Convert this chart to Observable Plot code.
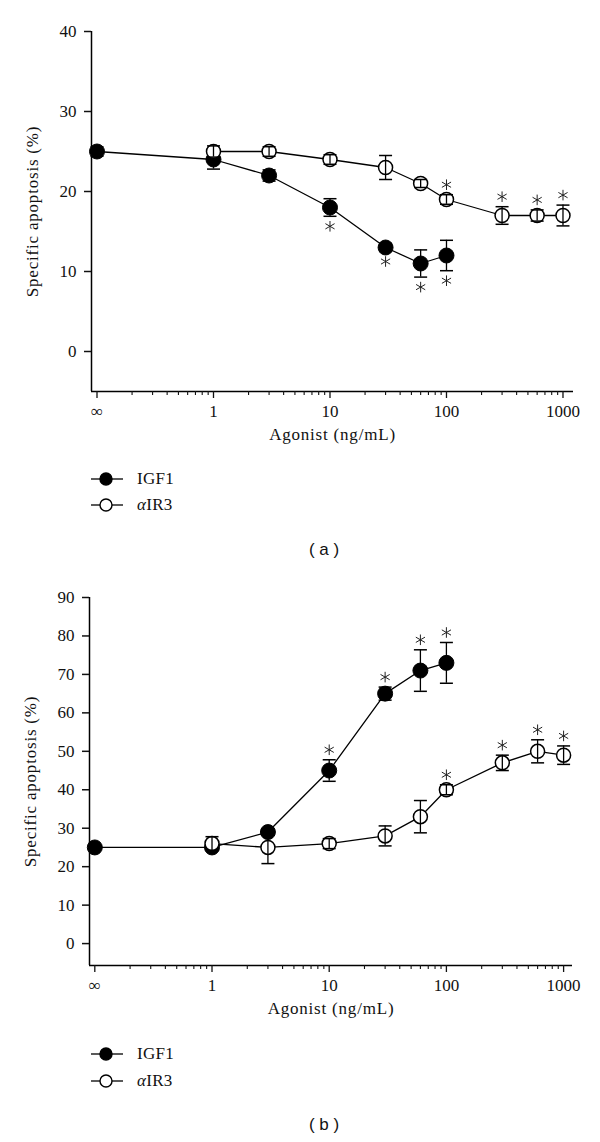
<!DOCTYPE html>
<html><head><meta charset="utf-8">
<script src="https://cdn.jsdelivr.net/npm/d3@7"></script>
<script src="https://cdn.jsdelivr.net/npm/@observablehq/plot@0.6"></script>
<style>
body{margin:0;background:#fff;}
#root{position:relative;width:600px;height:1142px;overflow:hidden;background:#fff;}
.panel{position:absolute;left:0;}
.panel text{font-family:"Liberation Serif",serif !important;font-size:17px !important;fill:#111;}
.panel g[aria-label$="axis label"] text{letter-spacing:0.8px;}
.lrow{position:absolute;left:91px;height:20px;display:flex;align-items:center;font-family:"Liberation Serif";font-size:17px;color:#111;letter-spacing:0.3px;}
.lrow svg{display:block;margin-right:14px;}
.cap{position:absolute;left:0;width:648px;text-align:center;font-family:"Liberation Sans";font-size:17px;color:#111;}
</style></head><body><div id="root"></div>
<script>
// ---- tick values / labels ----
const xTickVals = [0.1, 1, 10, 100, 1000];
const xTickLabels = ["∞", "1", "10", "100", "1000"];
const yTicksA = [0, 10, 20, 30, 40];
const yTicksB = [0, 10, 20, 30, 40, 50, 60, 70, 80, 90];

// ---- panel (a) ----
const aIgfDose = [0.1, 1, 3, 10, 30, 60, 100];
const aIgfMean = [25, 24, 22, 18, 13, 11, 12];
const aIgfErr  = [0.6, 1.2, 0.7, 1.1, 0.5, 1.7, 1.9];
const aIgfSig  = [0, 0, 0, 1, 1, 1, 1];
const aIr3Dose = [1, 3, 10, 30, 60, 100, 300, 600, 1000];
const aIr3Mean = [25, 25, 24, 23, 21, 19, 17, 17, 17];
const aIr3Err  = [0.7, 0.6, 0.6, 1.5, 0.5, 0.6, 1.1, 0.7, 1.3];
const aIr3Sig  = [0, 0, 0, 0, 0, 1, 1, 1, 1];

// ---- panel (b) ----
const bIgfDose = [0.1, 1, 3, 10, 30, 60, 100];
const bIgfMean = [25, 25, 29, 45, 65, 71, 73];
const bIgfErr  = [0.6, 0.8, 0.8, 2.8, 1.7, 5.4, 5.3];
const bIgfSig  = [0, 0, 0, 1, 1, 1, 1];
const bIr3Dose = [1, 3, 10, 30, 60, 100, 300, 600, 1000];
const bIr3Mean = [26, 25, 26, 28, 33, 40, 47, 50, 49];
const bIr3Err  = [1.8, 4.2, 1.3, 2.6, 4.2, 1.3, 2.0, 3.0, 2.4];
const bIr3Sig  = [0, 0, 0, 0, 0, 1, 1, 1, 1];

const rowsOf = (dose, mean, err, sig) => dose.map((d, i) => ({dose: d, mean: mean[i], err: err[i], sig: sig[i]}));

const minorTicks = [];
for (const base of [0.1, 1, 10, 100]) for (let k = 2; k <= 9; k++) minorTicks.push(+(base * k).toPrecision(3));

const capSymbol = {
  draw(ctx, size) { const h = Math.sqrt(size / Math.PI); ctx.moveTo(-h, 0); ctx.lineTo(h, 0); }
};

function panel({igf, ir3, igfDir, ir3Dir, yDomain, yTicks, xDomain, height, mt, mb, ml, mr}) {
  const labelMap = new Map(xTickVals.map((v, i) => [v, xTickLabels[i]]));
  const errMarks = (rows) => [
    Plot.ruleX(rows, {x: "dose", y1: d => d.mean - d.err, y2: d => d.mean + d.err, stroke: "black", strokeWidth: 1.3}),
    Plot.dot(rows, {x: "dose", y: d => d.mean + d.err, symbol: capSymbol, r: 6.5, stroke: "black", strokeWidth: 1.5}),
    Plot.dot(rows, {x: "dose", y: d => d.mean - d.err, symbol: capSymbol, r: 6.5, stroke: "black", strokeWidth: 1.5})
  ];
  const starMarks = (rows, dir) => Plot.dot(rows.filter(d => d.sig), {
    x: "dose", y: d => d.mean + dir * d.err, dy: -dir * 10,
    symbol: "asterisk", r: 5, stroke: "#222", strokeWidth: 1
  });
  return Plot.plot({
    width: 600, height,
    marginTop: mt, marginBottom: mb, marginLeft: ml, marginRight: mr,
    style: {fontFamily: "Liberation Serif", fontSize: "17px", color: "#111", background: "white"},
    x: {type: "log", domain: xDomain},
    y: {domain: yDomain},
    marks: [
      Plot.ruleY([yDomain[0]], {stroke: "black", strokeWidth: 1.5}),
      Plot.ruleX([xDomain[0]], {stroke: "black", strokeWidth: 1.5}),
      Plot.axisY({ticks: yTicks, tickSize: 7, tickPadding: 8, strokeWidth: 1.5,
        label: "Specific apoptosis (%)", labelAnchor: "center", labelArrow: "none", labelOffset: 66}),
      Plot.axisX({ticks: xTickVals, tickFormat: d => labelMap.get(d), tickSize: 7, tickPadding: 6, strokeWidth: 1.3,
        label: "Agonist (ng/mL)", labelAnchor: "center", labelArrow: "none", labelOffset: 48}),
      Plot.axisX({ticks: minorTicks, tickSize: 4, text: null, label: null, strokeWidth: 1.1}),
      Plot.line(igf, {x: "dose", y: "mean", stroke: "black", strokeWidth: 1.3}),
      Plot.line(ir3, {x: "dose", y: "mean", stroke: "black", strokeWidth: 1.3}),
      ...errMarks(igf),
      Plot.dot(igf, {x: "dose", y: "mean", r: 7.5, fill: "black", stroke: "black", strokeWidth: 1}),
      Plot.dot(ir3, {x: "dose", y: "mean", r: 7, fill: "white", stroke: "black", strokeWidth: 1.5}),
      ...errMarks(ir3),
      starMarks(igf, igfDir),
      starMarks(ir3, ir3Dir)
    ]
  });
}

const root = document.getElementById("root");

function place(el, top) { el.classList.add("panel"); el.style.top = top + "px"; root.appendChild(el); }

const plotA = panel({
  igf: rowsOf(aIgfDose, aIgfMean, aIgfErr, aIgfSig),
  ir3: rowsOf(aIr3Dose, aIr3Mean, aIr3Err, aIr3Sig),
  igfDir: -1, ir3Dir: 1,
  yDomain: [-5, 40], yTicks: yTicksA, xDomain: [0.0897, 1231],
  height: 452, mt: 31, mb: 61, ml: 91, mr: 27
});
place(plotA, 0);

const plotB = panel({
  igf: rowsOf(bIgfDose, bIgfMean, bIgfErr, bIgfSig),
  ir3: rowsOf(bIr3Dose, bIr3Mean, bIr3Err, bIr3Sig),
  igfDir: 1, ir3Dir: 1,
  yDomain: [-5.7, 90], yTicks: yTicksB, xDomain: [0.0901, 1191],
  height: 465, mt: 37, mb: 60, ml: 89, mr: 28
});
place(plotB, 560);

function legendRow(filled, label, top) {
  const row = document.createElement("div");
  row.className = "lrow";
  row.style.top = (top - 10) + "px";
  row.innerHTML = `<svg width="32" height="20"><line x1="0" y1="10" x2="32" y2="10" stroke="black" stroke-width="1.3"/>` +
    `<circle cx="15" cy="10" r="6" fill="${filled ? "black" : "white"}" stroke="black" stroke-width="1.4"/></svg><span>${label}</span>`;
  root.appendChild(row);
}
function caption(text, top) {
  const c = document.createElement("div");
  c.className = "cap";
  c.style.top = (top - 10) + "px";
  c.textContent = text;
  root.appendChild(c);
}
legendRow(true, "IGF1", 479);
legendRow(false, "<i>α</i>IR3", 505);
caption("( a )", 550);
legendRow(true, "IGF1", 1054);
legendRow(false, "<i>α</i>IR3", 1081);
caption("( b )", 1125);
</script></body></html>
